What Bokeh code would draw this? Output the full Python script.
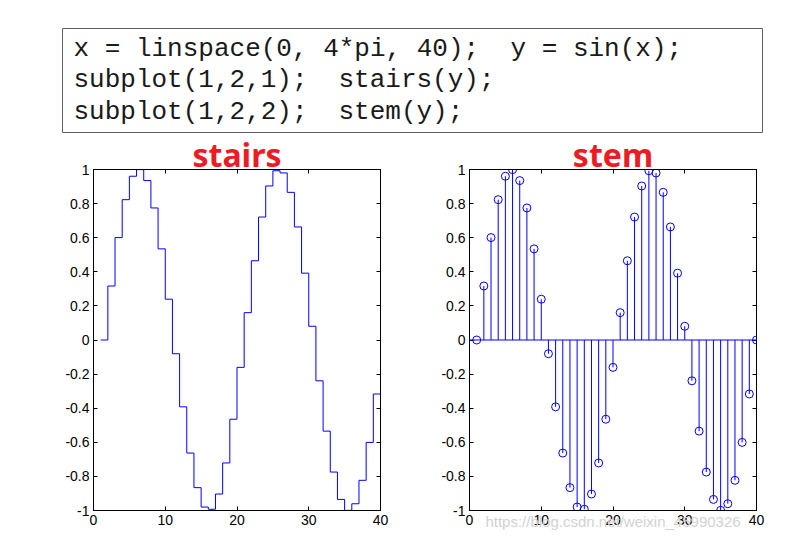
from bokeh.plotting import figure
from bokeh.layouts import column, row
from bokeh.models import Range1d, LinearAxis, FixedTicker, Span
from bokeh.core.properties import value
from bokeh.embed import file_html
from bokeh.resources import INLINE

# ---- data ----
code_parts_left = ["x = linspace(0, 4*pi, 40);", "subplot(1,2,1);", "subplot(1,2,2);"]
code_parts_right = ["y = sin(x);", "stairs(y);", "stem(y);"]
titles = ["stairs", "stem"]
n = [1, 2, 3, 4, 5, 6, 7, 8, 9, 10, 11, 12, 13, 14, 15, 16, 17, 18, 19, 20,
     21, 22, 23, 24, 25, 26, 27, 28, 29, 30, 31, 32, 33, 34, 35, 36, 37, 38, 39, 40]
y = [0.0, 0.3167, 0.6007, 0.8230, 0.9605, 0.9992, 0.9350, 0.7745, 0.5345, 0.2393,
     -0.0805, -0.3920, -0.6631, -0.8660, -0.9798, -0.9927, -0.9034, -0.7212, -0.4647, -0.1604,
     0.1604, 0.4647, 0.7212, 0.9034, 0.9927, 0.9798, 0.8660, 0.6631, 0.3920, 0.0805,
     -0.2393, -0.5345, -0.7745, -0.9350, -0.9992, -0.9605, -0.8230, -0.6007, -0.3167, 0.0]
x_ticks = [0, 10, 20, 30, 40]
y_ticks = [-1, -0.8, -0.6, -0.4, -0.2, 0, 0.2, 0.4, 0.6, 0.8, 1]
y_tick_labels = ["-1", "-0.8", "-0.6", "-0.4", "-0.2", "0", "0.2", "0.4", "0.6", "0.8", "1"]
watermark = "https://blog.csdn.net/weixin_45990326"

BLUE = "#0000ff"
RED = "#ed1c24"
TICK_FONT = "Liberation Sans"

# ---- top code box ----
TOP_H = 133
top = figure(width=797, height=TOP_H, x_range=Range1d(0, 797), y_range=Range1d(TOP_H, 0),
             output_backend="svg", toolbar_location=None, min_border=0)
top.axis.visible = False
top.grid.visible = False
top.outline_line_color = None
top.quad(left=[62], right=[762], top=[28], bottom=[132], fill_color=None,
         line_color="#606060", line_width=1)
line_y = [48, 79.5, 111]
top.text(x=[73, 73, 73], y=line_y, text=code_parts_left,
         text_font=value("Liberation Mono"), text_font_size="26px",
         text_baseline="middle", text_align="left", text_color="#1a1a1a")
top.text(x=[510, 338, 338], y=line_y, text=code_parts_right,
         text_font=value("Liberation Mono"), text_font_size="26px",
         text_baseline="middle", text_align="left", text_color="#1a1a1a")


def style_axes(p):
    p.grid.visible = False
    p.outline_line_color = "black"
    for ax in p.axis:
        ax.major_tick_in = 4
        ax.major_tick_out = 0
        ax.minor_tick_line_color = None
        ax.axis_line_color = "black"
        ax.major_tick_line_color = "black"
        ax.major_label_text_font = TICK_FONT
        ax.major_label_text_font_size = "14px"
        ax.major_label_text_color = "black"
        ax.major_label_standoff = 4
    p.xaxis.ticker = FixedTicker(ticks=x_ticks)
    p.yaxis.ticker = FixedTicker(ticks=y_ticks)
    p.yaxis.major_label_overrides = {t: l for t, l in zip(y_ticks, y_tick_labels)}
    ra = LinearAxis(ticker=FixedTicker(ticks=y_ticks), major_tick_in=4, major_tick_out=0,
                    minor_tick_line_color=None, major_label_text_alpha=0,
                    major_label_text_font_size="1px", major_label_standoff=0)
    ta = LinearAxis(ticker=FixedTicker(ticks=x_ticks), major_tick_in=4, major_tick_out=0,
                    minor_tick_line_color=None, major_label_text_alpha=0,
                    major_label_text_font_size="1px", major_label_standoff=0)
    p.add_layout(ra, "right")
    p.add_layout(ta, "above")


FRAME_W = 287
FRAME_H = 341
TOP_B = 169 - TOP_H


def make_fig(width, left_border, right_border, title):
    p = figure(width=width, height=TOP_B + FRAME_H + 30, x_range=Range1d(0, 40),
               y_range=Range1d(-1, 1), output_backend="svg", toolbar_location=None,
               min_border_left=left_border, min_border_right=right_border,
               min_border_top=TOP_B, min_border_bottom=30, title=title)
    p.title.align = "center"
    p.title.text_font = "Noto Sans"
    p.title.text_font_style = "bold"
    p.title.text_font_size = "32px"
    p.title.text_color = RED
    p.title.vertical_align = "bottom"
    p.title.standoff = -13
    style_axes(p)
    return p


p1 = make_fig(93 + FRAME_W + 39, 93, 39, titles[0])
p1.step(n, y, mode="after", line_color=BLUE, line_width=1)

p2 = make_fig(50 + FRAME_W + 41, 50, 41, titles[1])
p2.add_layout(Span(location=0, dimension="width", line_color=BLUE, line_width=1))
p2.segment(x0=n, y0=[0] * len(n), x1=n, y1=y, line_color=BLUE, line_width=1)
p2.scatter(n, y, marker="circle", size=8, fill_color=None, line_color=BLUE, line_width=1)

# faint watermark under the right-hand x axis
xa = p2.below[0]
xa.axis_label = watermark
xa.axis_label_text_font = "Liberation Sans"
xa.axis_label_text_font_style = "normal"
xa.axis_label_text_font_size = "15px"
xa.axis_label_text_color = "#d2d2d2"
xa.axis_label_standoff = -15
xa.axis_label_align = "center"

layout = column(top, row(p1, p2))
open("out.html", "w").write(file_html(layout, INLINE))
